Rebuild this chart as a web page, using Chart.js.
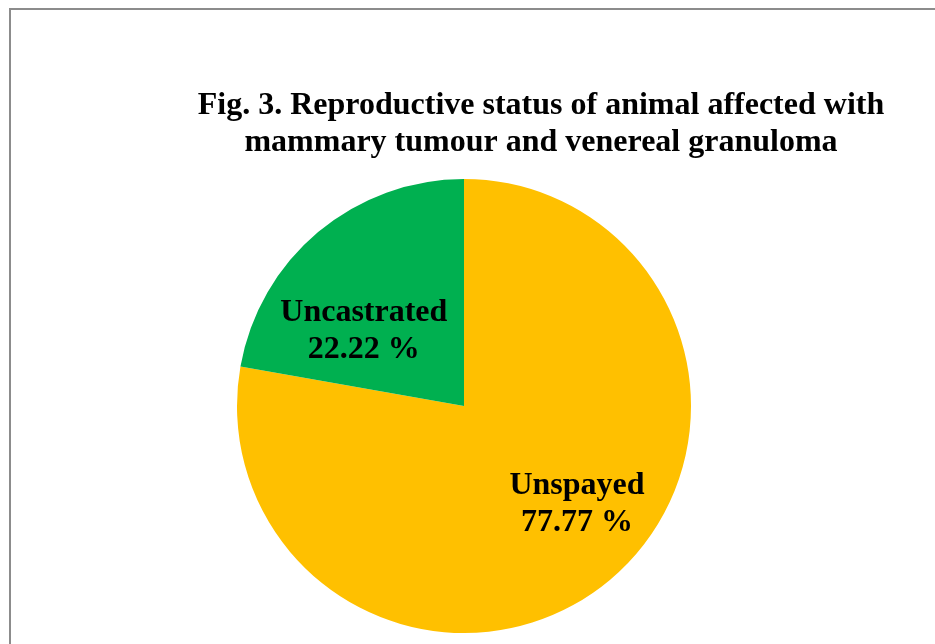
<!DOCTYPE html>
<html>
<head>
<meta charset="utf-8">
<script src="https://cdn.jsdelivr.net/npm/chart.js@4"></script>
<style>
    html, body { margin: 0; padding: 0; background: #fff; overflow: hidden; }
    #wrap { position: relative; width: 935px; height: 644px; }
    #frame {
        position: absolute; left: 9px; top: 8px; width: 940px; height: 650px;
        border-top: 2px solid #8c8c8c; border-left: 2px solid #8c8c8c;
    }
    #chart { position: absolute; left: 0; top: 0; }
</style>
</head>
<body>
<div id="wrap">
    <div id="frame"></div>
    <canvas id="chart" width="935" height="644"></canvas>
</div>
<script>
const titleLines = ['Fig. 3. Reproductive status of animal affected with', 'mammary tumour and venereal granuloma'];
const categories = ['Unspayed', 'Uncastrated'];
const percentages = [77.77, 22.22];
const sliceColors = ['#FFC000', '#00B050'];

const serif = '"Liberation Serif", "Times New Roman", serif';

// title is drawn off-centre from the pie, so it gets its own little plugin
const figTitle = {
    id: 'figTitle',
    afterDraw(chart, args, opts) {
        const ctx = chart.ctx;
        ctx.save();
        ctx.font = `bold ${opts.size}px ${serif}`;
        ctx.fillStyle = '#000';
        ctx.textAlign = 'center';
        ctx.textBaseline = 'alphabetic';
        opts.lines.forEach((line, i) => {
            ctx.fillText(line, opts.x, opts.y + i * opts.lineHeight);
        });
        ctx.restore();
    }
};

const sliceLabels = {
    id: 'sliceLabels',
    afterDatasetsDraw(chart, args, opts) {
        const ctx = chart.ctx;
        const meta = chart.getDatasetMeta(0);
        ctx.save();
        ctx.font = `bold ${opts.size}px ${serif}`;
        ctx.fillStyle = '#000';
        ctx.textAlign = 'center';
        ctx.textBaseline = 'middle';
        meta.data.forEach((arc, i) => {
            const { x, y, startAngle, endAngle, outerRadius } = arc.getProps(['x', 'y', 'startAngle', 'endAngle', 'outerRadius'], true);
            const mid = (startAngle + endAngle) / 2 + opts.turn[i] * Math.PI / 180;
            const r = outerRadius * opts.dist[i];
            const cx = x + Math.cos(mid) * r;
            const cy = y + Math.sin(mid) * r + opts.shiftY;
            const value = chart.data.datasets[0].data[i];
            ctx.fillText(chart.data.labels[i], cx, cy - opts.lineHeight / 2);
            ctx.fillText(value.toFixed(2) + ' %', cx, cy + opts.lineHeight / 2);
        });
        ctx.restore();
    }
};

new Chart(document.getElementById('chart'), {
    type: 'pie',
    data: {
        labels: categories,
        datasets: [{
            data: percentages,
            backgroundColor: sliceColors,
            borderWidth: 0,
            hoverOffset: 0
        }]
    },
    options: {
        responsive: false,
        animation: false,
        layout: { padding: { left: 237, right: 244, top: 179, bottom: 11 } },
        plugins: {
            legend: { display: false },
            tooltip: { enabled: false },
            title: { display: false },
            figTitle: { lines: titleLines, x: 541, y: 114, lineHeight: 37, size: 32 },
            sliceLabels: { size: 32, lineHeight: 37, dist: [0.65, 0.56], turn: [-10, -12], shiftY: 3 }
        }
    },
    plugins: [figTitle, sliceLabels]
});
</script>
</body>
</html>
